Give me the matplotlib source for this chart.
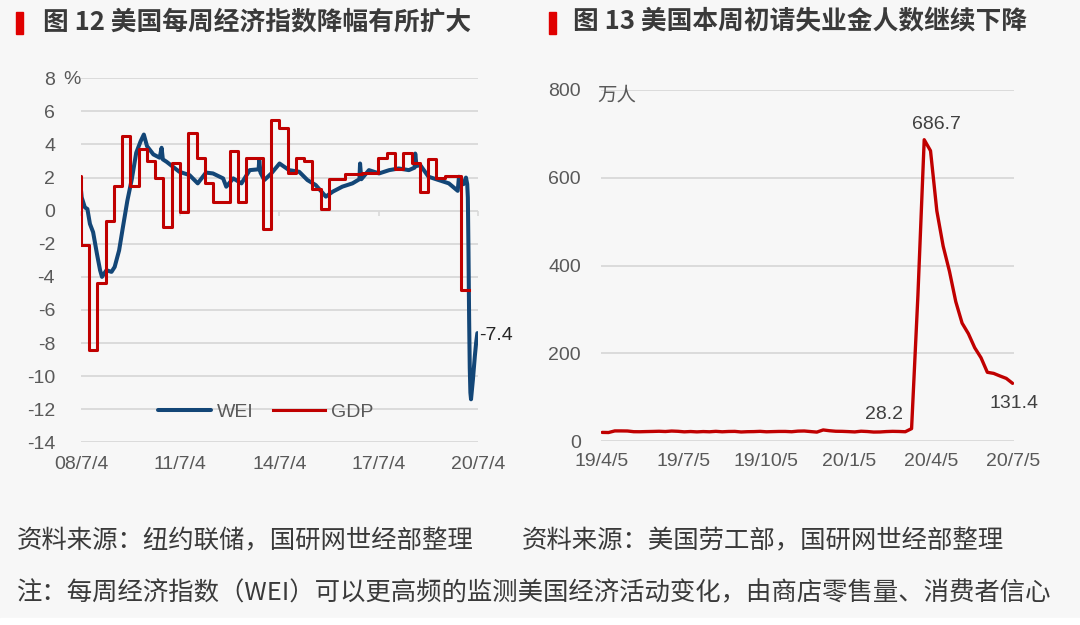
import matplotlib
matplotlib.use('Agg')
import matplotlib.pyplot as plt
import pandas as pd
from matplotlib.patches import Rectangle

plt.rcParams['font.family'] = ['Liberation Sans', 'Noto Sans CJK SC']

# ---- data: left chart (WEI weekly index, GDP quarterly growth, %) ----
wei_dates = [
    '2008-07-05', '2008-07-12', '2008-08-16', '2008-09-13', '2008-10-11', '2008-11-15',
    '2008-12-27', '2009-01-31', '2009-02-21', '2009-04-11', '2009-06-06', '2009-07-11',
    '2009-08-29', '2009-10-10', '2009-11-28', '2010-01-16', '2010-03-06', '2010-04-24',
    '2010-05-29', '2010-07-03', '2010-09-11', '2010-11-20', '2010-12-11', '2010-12-25',
    '2011-02-05', '2011-04-16', '2011-06-25', '2011-10-15', '2012-01-14', '2012-04-14',
    '2012-06-30', '2012-10-20', '2012-11-24', '2013-02-09', '2013-05-11', '2013-08-10',
    '2013-11-16', '2013-11-23', '2013-12-07', '2014-01-18', '2014-04-05', '2014-07-05',
    '2014-10-18', '2015-02-07', '2015-05-09', '2015-08-08', '2015-11-28', '2016-02-13',
    '2016-05-28', '2016-09-17', '2016-12-03', '2016-12-10', '2016-12-24', '2017-03-18',
    '2017-07-08', '2017-10-28', '2018-02-10', '2018-06-02', '2018-08-04', '2018-08-11',
    '2018-08-25', '2018-10-06', '2019-01-05', '2019-04-27', '2019-08-17', '2019-11-23',
    '2019-12-07', '2020-01-25', '2020-02-22', '2020-03-07', '2020-03-14', '2020-03-21',
    '2020-03-28', '2020-04-04', '2020-04-11', '2020-04-18', '2020-05-09', '2020-05-30',
    '2020-06-13', '2020-06-27',
]
wei_values = [
    1.2, 0.8, 0.2, 0.1, -0.8, -1.3,
    -2.6, -3.6, -4.0, -3.6, -3.7, -3.4,
    -2.4, -1.0, 0.6, 1.9, 3.5, 4.2,
    4.6, 3.9, 3.4, 3.2, 3.8, 3.1,
    2.95, 2.65, 2.35, 2.15, 1.65, 2.3,
    2.25, 1.95, 1.45, 1.95, 1.65, 2.45,
    2.5, 3.05, 2.3, 1.85, 2.25, 2.85,
    2.45, 2.35, 1.85, 1.55, 0.85, 1.15,
    1.45, 1.65, 1.9, 2.85, 1.9, 2.45,
    2.25, 2.45, 2.55, 2.45, 2.6, 3.45,
    2.7, 2.75, 2.05, 1.85, 1.65, 1.2,
    2.05, 1.6, 2.0, 1.6, 0.8, -2.5,
    -6.5, -9.5, -11.0, -11.4, -10.2, -8.8,
    -8.0, -7.4,
]
# quarterly GDP growth, 2008Q2 .. 2020Q1
gdp_values = [
    2.1, -2.1, -8.4,
    -4.4, -0.6, 1.5, 4.5,
    1.5, 3.7, 3.0, 2.0,
    -1.0, 2.9, -0.1, 4.7,
    3.2, 1.7, 0.5, 0.5,
    3.6, 0.5, 3.2, 3.2,
    -1.1, 5.5, 5.0, 2.3,
    3.2, 3.0, 1.3, 0.1,
    1.9, 1.9, 2.2, 2.2,
    2.3, 2.3, 3.2, 3.5,
    2.5, 3.5, 2.9, 1.1,
    3.1, 2.0, 2.1, 2.1,
    -4.8,
]
left_ticks = ['2008-07-04', '2011-07-04', '2014-07-04', '2017-07-04', '2020-07-04']
left_labels = ['08/7/4', '11/7/4', '14/7/4', '17/7/4', '20/7/4']

# ---- data: right chart (initial jobless claims, 10k persons) ----
claims = [
    19.6, 19.3, 23.0, 23.0, 22.8, 21.2, 21.1, 21.5, 21.8, 22.2, 21.6, 22.7, 22.1,
    20.9, 21.6, 20.8, 21.5, 21.0, 22.0, 21.0, 21.7, 21.9, 20.6, 21.2, 21.4, 22.0,
    21.0, 21.4, 21.8, 21.8, 21.1, 22.5, 22.8, 21.5, 20.3, 25.2, 23.4, 22.2, 22.0,
    21.4, 20.7, 22.3, 21.6, 20.4, 20.6, 21.5, 22.0, 21.7, 21.1, 28.2, 330.7, 686.7,
    661.5, 524.5, 444.2, 386.7, 317.6, 268.7, 244.6, 212.6, 189.7, 156.6, 154.1,
    148.2, 142.7, 131.4,
]
claims_start = '2019-04-06'
right_ticks = ['2019-04-05', '2019-07-05', '2019-10-05', '2020-01-05', '2020-04-05', '2020-07-05']
right_labels = ['19/4/5', '19/7/5', '19/10/5', '20/1/5', '20/4/5', '20/7/5']

W, H = 1080, 625
BG = '#f7f7f7'
GRID = '#d9d9d9'
TXT = '#595959'
BLUE = '#134677'
RED = '#c00000'


def fx(px):
    return px / W


def fy(py):
    return 1 - py / H


fig = plt.figure(figsize=(W / 100, H / 100), dpi=100, facecolor=BG)

# ---------------- left chart ----------------
ax1 = fig.add_axes([fx(80.7), fy(442.3), fx(478) - fx(80.7), fy(78.3) - fy(442.3)])
ax1.set_facecolor(BG)
wd = pd.to_datetime(wei_dates)
gd = list(pd.date_range('2008-04-01', periods=len(gdp_values), freq='QS'))
gd.append(pd.Timestamp('2020-04-01'))
gv = gdp_values + [gdp_values[-1]]

ax1.plot(wd, wei_values, color=BLUE, lw=2.9, solid_capstyle='round', solid_joinstyle='round',
         label='WEI', zorder=3)
ax1.plot(gd, gv, color=RED, lw=2.2, drawstyle='steps-post', label='GDP', zorder=4)

ax1.set_xlim(pd.Timestamp('2008-07-01'), pd.Timestamp('2020-07-04'))
ax1.set_ylim(-14, 8)
yt = list(range(-14, 9, 2))
ax1.set_yticks(yt)
ax1.set_yticklabels([str(v) for v in yt])
ax1.set_xticks(pd.to_datetime(left_ticks))
ax1.set_xticklabels(left_labels)
ax1.tick_params(axis='y', length=0, pad=18.5, labelsize=14, labelcolor=TXT)
ax1.tick_params(axis='x', length=0, pad=10, labelsize=14, labelcolor=TXT)
ax1.grid(axis='y', color=GRID, lw=1.3)
ax1.set_axisbelow(True)
for s in ax1.spines.values():
    s.set_visible(False)

# small tick marks on the zero line
sec = ax1.secondary_xaxis(14 / 22)
sec.set_alignment('bottom')
sec.set_xticks(pd.to_datetime(left_ticks))
sec.tick_params(axis='x', direction='out', length=3.6, width=1.2, color=GRID, labelbottom=False,
                labeltop=False)
for s in sec.spines.values():
    s.set_visible(False)

leg = ax1.legend(ncol=2, frameon=False, loc='center', bbox_to_anchor=(fx(266), fy(412)),
                 bbox_transform=fig.transFigure, fontsize=14, handlelength=2.7,
                 handletextpad=0.3, columnspacing=1.0)
for t in leg.get_texts():
    t.set_color(TXT)

ax1.annotate('-7.4', (wd[-1], wei_values[-1]), xytext=(1.5, -1.4), textcoords='offset points',
             ha='left', va='center', fontsize=14, color='#262626')
fig.text(fx(63), fy(80), '%', ha='left', va='center', fontsize=14, color=TXT)

# ---------------- right chart ----------------
ax2 = fig.add_axes([fx(601.3), fy(441), fx(1013.5) - fx(601.3), fy(90) - fy(441)])
ax2.set_facecolor(BG)
cd = pd.date_range(claims_start, periods=len(claims), freq='7D')
ax2.plot(cd, claims, color=RED, lw=2.4, solid_joinstyle='round', solid_capstyle='round')
ax2.set_xlim(pd.Timestamp('2019-04-05'), pd.Timestamp('2020-07-05'))
ax2.set_ylim(0, 800)
ax2.set_yticks([0, 200, 400, 600, 800])
ax2.set_xticks(pd.to_datetime(right_ticks))
ax2.set_xticklabels(right_labels)
ax2.tick_params(axis='y', length=0, pad=14.6, labelsize=14, labelcolor=TXT)
ax2.tick_params(axis='x', length=0, pad=9, labelsize=14, labelcolor=TXT)
ax2.grid(axis='y', color=GRID, lw=1.3)
ax2.set_axisbelow(True)
for s in ax2.spines.values():
    s.set_visible(False)

i_pre = claims.index(28.2)
i_peak = claims.index(max(claims))
ax2.annotate('28.2', (cd[i_pre], claims[i_pre]), xytext=(-6, 10), textcoords='offset points',
             ha='right', va='center', fontsize=14, color='#404040')
ax2.annotate('686.7', (cd[i_peak], claims[i_peak]), xytext=(9, 10.6), textcoords='offset points',
             ha='center', va='center', fontsize=14, color='#404040')
ax2.annotate('131.4', (cd[-1], claims[-1]), xytext=(0.7, -14.2), textcoords='offset points',
             ha='center', va='center', fontsize=14, color='#404040')
fig.text(fx(597), fy(95), '万人', ha='left', va='center', fontsize=14, color=TXT,
         family=['Noto Sans CJK SC'])

# ---------------- titles ----------------
for bx, tx, title in [(16, 43, '图 12 美国每周经济指数降幅有所扩大'),
                      (549, 573, '图 13 美国本周初请失业金人数继续下降')]:
    fig.patches.append(Rectangle((fx(bx), fy(34)), fx(7), fy(12) - fy(34), color='#e00000',
                                 transform=fig.transFigure, figure=fig))
    fig.text(fx(tx), fy(22), title, ha='left', va='center', fontsize=18.5, weight='bold',
             color='#3a3a3a', family=['Noto Sans CJK SC'])

# ---------------- footer ----------------
foot = dict(ha='left', va='center', fontsize=18.3, color='#3a3a3a', family=['Noto Sans CJK SC'])
fig.text(fx(17), fy(541), '资料来源：纽约联储，国研网世经部整理', **foot)
fig.text(fx(522), fy(541), '资料来源：美国劳工部，国研网世经部整理', **foot)
fig.text(fx(17), fy(593), '注：每周经济指数（WEI）可以更高频的监测美国经济活动变化，由商店零售量、消费者信心', **foot)
fig.patches.append(Rectangle((0, 0), 1, fy(618), color='white', transform=fig.transFigure,
                             figure=fig))

fig.savefig('out.png', dpi=100, facecolor=BG)
